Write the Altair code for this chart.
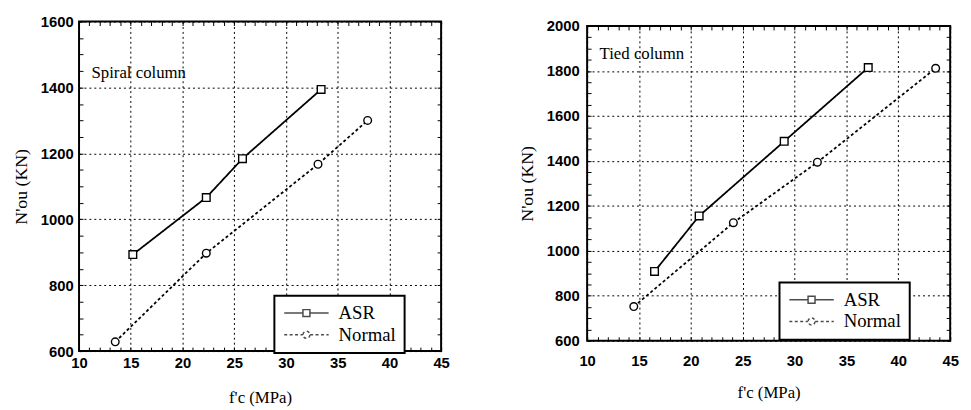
import altair as alt
import pandas as pd

# ---------------- data ----------------
series_names = ["ASR", "Normal"]

spiral_asr_fc = [15.2, 22.3, 25.8, 33.4]
spiral_asr_n = [893, 1066, 1184, 1394]
spiral_norm_fc = [13.5, 22.3, 33.1, 37.9]
spiral_norm_n = [628, 897, 1167, 1300]

tied_asr_fc = [16.5, 20.8, 29.0, 37.1]
tied_asr_n = [908, 1155, 1487, 1815]
tied_norm_fc = [14.5, 24.1, 32.2, 43.6]
tied_norm_n = [752, 1125, 1394, 1812]

x_major = [10, 15, 20, 25, 30, 35, 40, 45]
x_minor = list(range(10, 46))
spiral_y_major = [600, 800, 1000, 1200, 1400, 1600]
spiral_y_minor = list(range(600, 1601, 50))
tied_y_major = [600, 800, 1000, 1200, 1400, 1600, 1800, 2000]
tied_y_minor = list(range(600, 2001, 50))

spiral_label = ["Spiral column"]
spiral_label_pos = [(11.2, 1445)]
tied_label = ["Tied column"]
tied_label_pos = [(11.2, 1873)]

SERIF = "'Liberation Serif', 'Times New Roman', serif"
SANS = "Liberation Sans, Arial, sans-serif"

PATH_ASR = "M-1,0L1.53,0M2.47,0L5,0M1.53,-0.47L2.47,-0.47L2.47,0.47L1.53,0.47Z"
PATH_NORM = "M-1,0L1.5,0M2.5,0L5,0M2.47,0A0.47,0.47,0,1,1,1.53,0A0.47,0.47,0,1,1,2.47,0Z"
DASHES = [[1, 0], [3, 2.5]]


def make_df(a_fc, a_n, n_fc, n_n):
    rows = []
    for f, n in zip(a_fc, a_n):
        rows.append({"fc": f, "N": n, "series": "ASR"})
    for f, n in zip(n_fc, n_n):
        rows.append({"fc": f, "N": n, "series": "Normal"})
    return pd.DataFrame(rows)


def panel(df, ydom, ymaj, ymin, label, label_pos, w, h, xlabpad, xtitlepad, ylabpad,
          legx, legy):
    xs = alt.Scale(domain=[10, 45], nice=False, zero=False)
    ys = alt.Scale(domain=ydom, nice=False, zero=False)
    lab = dict(labelFont=SANS, labelFontWeight="bold", labelFontSize=15,
               labelColor="black", titleFont=SERIF, titleFontWeight="normal",
               titleColor="black")
    main_x = alt.Axis(values=x_major, grid=True, gridDash=[2, 3], gridColor="black",
                      gridWidth=1, ticks=False, domain=False, labelPadding=xlabpad,
                      title="f'c  (MPa)", titlePadding=xtitlepad, labelFlush=False,
                      format="d", titleFontSize=17, **lab)
    main_y = alt.Axis(values=ymaj, grid=True, gridDash=[2, 3], gridColor="black",
                      gridWidth=1, ticks=False, domain=False, labelPadding=ylabpad,
                      title="N'ou (KN)", titlePadding=10, format="d",
                      titleFontSize=18, **lab)
    tick_common = dict(labels=False, domain=False, grid=False, title=None,
                       tickColor="black", tickWidth=1, tickSize=4, offset=-4)
    top_x = alt.Axis(orient="top", values=x_minor, **tick_common)
    bot_x = alt.Axis(orient="bottom", values=x_minor, **tick_common)
    right_y = alt.Axis(orient="right", values=ymin, **tick_common)
    left_y = alt.Axis(orient="left", values=ymin, **tick_common)

    base = alt.Chart(df)
    lines = base.mark_line(color="black", strokeWidth=1.8).encode(
        x=alt.X("fc:Q", scale=xs, axis=main_x),
        y=alt.Y("N:Q", scale=ys, axis=main_y),
        strokeDash=alt.StrokeDash("series:N",
                                  scale=alt.Scale(domain=series_names, range=DASHES),
                                  legend=None),
    )
    points = base.mark_point(filled=False, color="black", size=60, strokeWidth=1.4,
                             fill="white", fillOpacity=1).encode(
        x=alt.X("fc:Q", scale=xs, axis=top_x),
        y=alt.Y("N:Q", scale=ys, axis=right_y),
        shape=alt.Shape("series:N",
                        scale=alt.Scale(domain=series_names, range=["square", "circle"]),
                        legend=None),
    )
    leg = alt.Legend(title=None, orient="none", legendX=legx, legendY=legy,
                     strokeColor="black", fillColor="white", padding=8,
                     labelFont=SERIF, labelFontSize=19, labelColor="black",
                     labelFontWeight="normal",
                     symbolSize=225, symbolStrokeColor="black", symbolStrokeWidth=1.5,
                     symbolFillColor="white", labelOffset=38, rowPadding=2)
    legend_layer = base.transform_filter("false").mark_point(color="black").encode(
        x=alt.X("fc:Q", scale=xs, axis=bot_x),
        y=alt.Y("N:Q", scale=ys, axis=left_y),
        shape=alt.Shape("series:N",
                        scale=alt.Scale(domain=series_names, range=[PATH_ASR, PATH_NORM]),
                        legend=leg),
        strokeDash=alt.StrokeDash("series:N",
                                  scale=alt.Scale(domain=series_names, range=DASHES),
                                  legend=leg),
    )
    tdf = pd.DataFrame({"x": [p[0] for p in label_pos], "y": [p[1] for p in label_pos],
                        "t": label})
    text = alt.Chart(tdf).mark_text(align="left", baseline="middle", font=SERIF,
                                    fontSize=17, color="black").encode(
        x=alt.X("x:Q", scale=xs, axis=None),
        y=alt.Y("y:Q", scale=ys, axis=None),
        text="t:N",
    )
    return alt.layer(lines, points, legend_layer, text).resolve_scale(
        shape="independent", strokeDash="independent"
    ).resolve_axis(x="independent", y="independent").properties(width=w, height=h)


left = panel(make_df(spiral_asr_fc, spiral_asr_n, spiral_norm_fc, spiral_norm_n),
             [600, 1600], spiral_y_major, spiral_y_minor, spiral_label, spiral_label_pos,
             367, 334, 5, 19, 6, 198, 278)
right = panel(make_df(tied_asr_fc, tied_asr_n, tied_norm_fc, tied_norm_n),
              [600, 2000], tied_y_major, tied_y_minor, tied_label, tied_label_pos,
              368, 319, 13, 17, 8, 195, 260)

chart = alt.hconcat(left, right, spacing=67, center=True).properties(
    padding={"left": 3, "top": 3, "right": 3, "bottom": 3}
).configure(
    font=SERIF, style={"guide-label": {"font": SERIF}}
).configure_view(stroke="black", strokeWidth=2).configure_legend(
    strokeWidth=2, labelFont=SERIF, labelFontSize=19, labelColor="black"
)

chart.save("out.html", embed_options={"renderer": "svg", "actions": False})
